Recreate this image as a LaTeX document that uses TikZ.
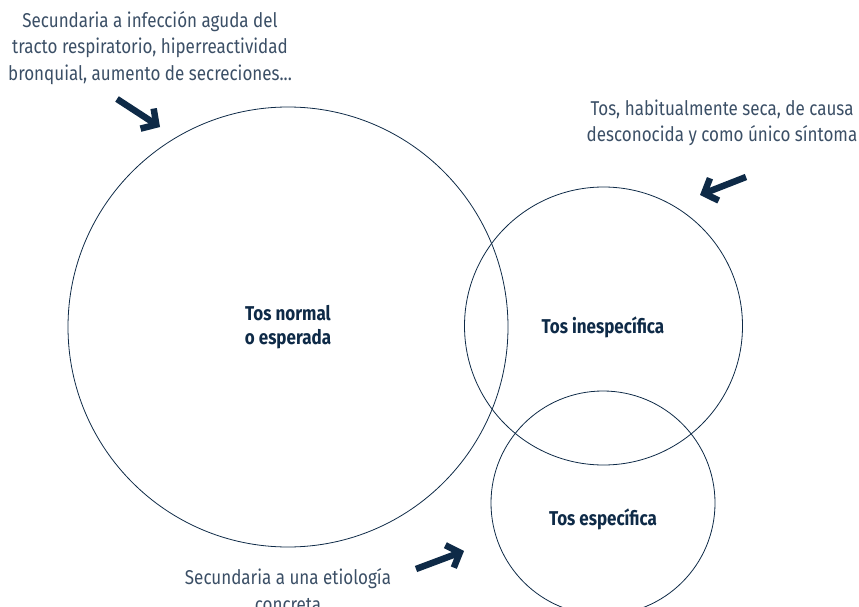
\documentclass[tikz,border=0pt]{standalone}
\usepackage{fontspec}
\setmainfont{Fira Sans}[FakeStretch=0.85]
\usetikzlibrary{positioning,arrows.meta}
\definecolor{navy}{HTML}{0E2A47}
\definecolor{notegray}{HTML}{3B4F66}

\begin{document}
\begin{tikzpicture}[x=1pt,y=-1pt,
    zone/.style={circle,draw=navy,line width=0.8pt,inner sep=0pt},
    title/.style={font=\fontsize{20}{24}\selectfont\bfseries,text=navy,align=center},
    note/.style={font=\fontsize{20}{26.5}\selectfont,text=notegray,align=center},
    pointer/.style={draw=navy,line width=6.5pt,-{Straight Barb[length=11pt,width=24pt]}}]
    \useasboundingbox (0,0) rectangle (859,607);
    % the three zones
    \node[zone,minimum size=440pt] (normal) at (288,327) {};
    \node[zone,minimum size=278pt] (inesp)  at (603.5,326) {};
    \node[zone,minimum size=224pt] (espec)  at (603,503) {};
    \node[title] (normal-t) at (288,327) {Tos normal\\o esperada};
    \node[title] (inesp-t)  at (603,327) {Tos inespecífica};
    \node[title] (espec-t)  at (603,519) {Tos específica};
    % notes
    \node[note] (normal-n) at (150,48)  {Secundaria a infección aguda del\\tracto respiratorio, hiperreactividad\\bronquial, aumento de secreciones...};
    \node[note] (inesp-n)  at (722,123) {Tos, habitualmente seca, de causa\\desconocida y como único síntoma};
    \node[note] (espec-n)  at (288,590) {Secundaria a una etiología\\concreta};
    % pointers
    \coordinate (p1a) at (117,99);  \coordinate (p1b) at (160,127);
    \coordinate (p2a) at (746,177); \coordinate (p2b) at (700,195);
    \coordinate (p3a) at (416,569); \coordinate (p3b) at (464,551);
    \draw[pointer] (p1a) -- (p1b);
    \draw[pointer] (p2a) -- (p2b);
    \draw[pointer] (p3a) -- (p3b);
\end{tikzpicture}
\end{document}
